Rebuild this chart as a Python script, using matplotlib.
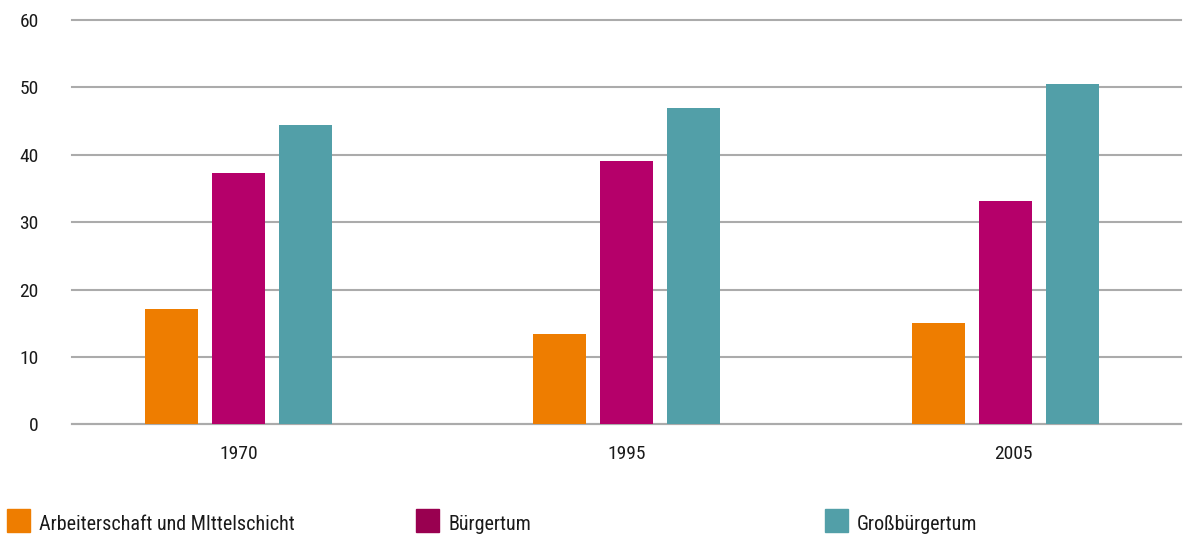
import matplotlib.pyplot as plt
from matplotlib import font_manager
from matplotlib.patches import Rectangle

# Anteile je Schicht, drei Erhebungsjahre
years = ["1970", "1995", "2005"]
series_names = ["Arbeiterschaft und MIttelschicht", "Bürgertum", "Großbürgertum"]
arbeiter = [17.1, 13.4, 15.0]
buerger = [37.3, 39.1, 33.1]
gross = [44.4, 46.9, 50.5]

bar_colors = ["#EE7D00", "#B5006A", "#529FA8"]
legend_colors = ["#EE7D00", "#990050", "#529FA8"]


def pick_font(names):
    # first family that is actually installed, narrow ones preferred
    for name in names:
        try:
            font_manager.findfont(font_manager.FontProperties(family=name),
                                  fallback_to_default=False)
            return name
        except ValueError:
            continue
    return "DejaVu Sans"


font = pick_font(["Liberation Sans Narrow", "Roboto Condensed",
                  "Open Sans Condensed", "Roboto"])
plt.rcParams["font.family"] = [font, "DejaVu Sans"]

W, H = 1184, 538
fig = plt.figure(figsize=(W / 100, H / 100), dpi=100)

# axes laid out in pixel units
ax_left, ax_right, ax_top, ax_bottom = 72, 1181, 20, 424.3
ax = fig.add_axes([ax_left / W, 1 - ax_bottom / H,
                   (ax_right - ax_left) / W, (ax_bottom - ax_top) / H])
ax.set_xlim(ax_left, ax_right)
ax.set_ylim(0, 60)

group_x = [238.5, 626.5, 1005.5]
label_x = [239, 627, 1013]
step, width = 67, 53

for i, vals in enumerate([arbeiter, buerger, gross]):
    xs = [g + (i - 1) * step for g in group_x]
    ax.bar(xs, vals, width=width, color=bar_colors[i], zorder=3)

ax.set_yticks(range(0, 61, 10))
ax.yaxis.grid(True, color="#ABABAB", linewidth=1.5, zorder=1)
for gl in ax.get_ygridlines():
    gl.set_clip_on(False)
ax.set_xticks(label_x)
ax.set_xticklabels(years)
ax.tick_params(axis="both", length=0, labelsize=14, colors="#1a1a1a")
ax.tick_params(axis="y", pad=24)
ax.tick_params(axis="x", pad=15)
for side in ["top", "right", "left"]:
    ax.spines[side].set_visible(False)
ax.spines["bottom"].set_color("#ABABAB")
ax.spines["bottom"].set_linewidth(1.5)

# legend row below the plot
legend_x = [7, 416, 825]
for x0, name, col in zip(legend_x, series_names, legend_colors):
    fig.patches.append(Rectangle((x0 / W, 1 - 532 / H), 23 / W, 23 / H,
                                 transform=fig.transFigure, color=col))
    fig.text((x0 + 32) / W, 1 - 524 / H, name, fontsize=14.5,
             color="#1a1a1a", va="center", ha="left")

fig.savefig("out.png", dpi=100)
